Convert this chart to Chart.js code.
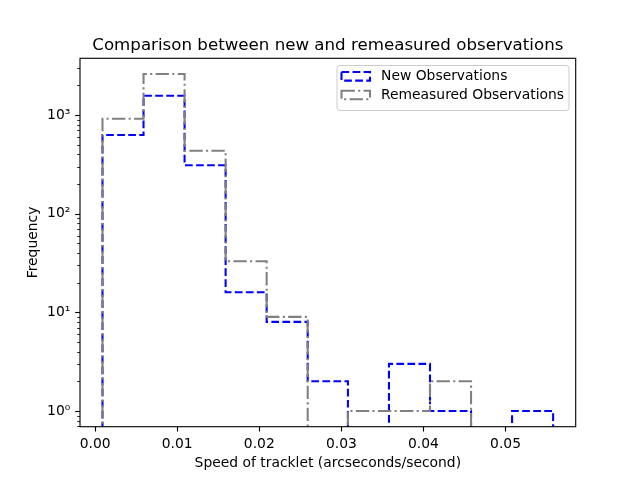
<!DOCTYPE html>
<html>
<head>
<meta charset="utf-8">
<title>Comparison between new and remeasured observations</title>
<script src="https://cdn.jsdelivr.net/npm/chart.js@4.4.1/dist/chart.umd.min.js"></script>
<style>
    html, body { margin: 0; padding: 0; background: #ffffff; }
    #chart { display: block; }
</style>
</head>
<body>
<canvas id="chart" width="640" height="480"></canvas>
<script>
// histogram data
const binEdges = [0.0009, 0.0059, 0.0109, 0.0159, 0.0209, 0.0259, 0.0308, 0.0358, 0.0408, 0.0458, 0.0508, 0.0558];
const newCounts = [627, 1568, 309, 16, 8, 2, 0, 3, 1, 0, 1];
const remeasuredCounts = [917, 2603, 435, 33, 9, 0, 1, 1, 2, 0, 0];
const seriesLabels = ['New Observations', 'Remeasured Observations'];
const xTicks = [0, 0.01, 0.02, 0.03, 0.04, 0.05];
const yMajorTicks = [1, 10, 100, 1000];
const yMajorLabels = ['10\u2070', '10\u00b9', '10\u00b2', '10\u00b3'];

const FONT = "'DejaVu Sans', sans-serif";
const PT = 100 / 72;

// empty bins sit below the visible range of the log axis
const FLOOR = 0.3;

function stepOutline(edges, counts) {
    const pts = [{ x: edges[0], y: FLOOR }];
    counts.forEach((c, i) => {
        const v = c > 0 ? c : FLOOR;
        pts.push({ x: edges[i], y: v });
        pts.push({ x: edges[i + 1], y: v });
    });
    pts.push({ x: edges[edges.length - 1], y: FLOOR });
    return pts;
}

const blueDash = [3.7 * 1.5 * PT, 1.6 * 1.5 * PT];
const grayDash = [6.4 * 1.5 * PT, 1.6 * 1.5 * PT, 1 * 1.5 * PT, 1.6 * 1.5 * PT];

const styles = [
    { color: '#0000ff', dash: blueDash },
    { color: '#808080', dash: grayDash }
];

// title, axis labels, frame, y tick marks and legend drawn matplotlib-like
const decorPlugin = {
    id: 'decor',
    afterDatasetsDraw(chart) {
        const ctx = chart.ctx;
        const area = chart.chartArea;
        const yScale = chart.scales.y;
        ctx.save();

        // y tick marks: long ones at decades, short ones between
        ctx.strokeStyle = '#000000';
        yScale.ticks.forEach(t => {
            const major = yMajorTicks.includes(t.value);
            const y = Math.round(yScale.getPixelForValue(t.value)) + 0.5;
            ctx.lineWidth = major ? 0.8 * PT : 0.6 * PT;
            const len = major ? 3.5 * PT : 2 * PT;
            ctx.beginPath();
            ctx.moveTo(area.left, y);
            ctx.lineTo(area.left - len, y);
            ctx.stroke();
        });

        // axes frame
        ctx.lineWidth = 0.8 * PT;
        ctx.strokeRect(area.left, area.top, area.right - area.left, area.bottom - area.top);

        // title
        ctx.fillStyle = '#000000';
        ctx.font = (12 * PT) + 'px ' + FONT;
        ctx.textAlign = 'center';
        ctx.textBaseline = 'alphabetic';
        ctx.fillText('Comparison between new and remeasured observations', (area.left + area.right) / 2, 50);

        // axis labels
        ctx.font = (10 * PT) + 'px ' + FONT;
        ctx.fillText('Speed of tracklet (arcseconds/second)', (area.left + area.right) / 2, 467);
        ctx.save();
        ctx.translate(37, (area.top + area.bottom) / 2);
        ctx.rotate(-Math.PI / 2);
        ctx.fillText('Frequency', 0, 0);
        ctx.restore();

        // legend
        const lx = 337, ly = 65.5, lw = 232, lh = 45;
        ctx.beginPath();
        ctx.roundRect(lx, ly, lw, lh, 3);
        ctx.fillStyle = 'rgba(255,255,255,0.8)';
        ctx.fill();
        ctx.strokeStyle = '#cccccc';
        ctx.lineWidth = 1;
        ctx.stroke();

        const rows = [76.3, 95];
        seriesLabels.forEach((label, i) => {
            const cy = rows[i];
            ctx.strokeStyle = styles[i].color;
            ctx.lineWidth = 1.5 * PT;
            ctx.setLineDash(styles[i].dash);
            ctx.strokeRect(341.5, cy - 4.3, 28.5, 8.6);
            ctx.setLineDash([]);
            ctx.fillStyle = '#000000';
            ctx.textAlign = 'left';
            ctx.textBaseline = 'middle';
            ctx.fillText(label, 381, cy);
        });

        ctx.restore();
    }
};

document.addEventListener('DOMContentLoaded', function () {
    const ctx = document.getElementById('chart').getContext('2d');

    new Chart(ctx, {
        type: 'line',
        data: {
            datasets: [
                {
                    label: seriesLabels[0],
                    data: stepOutline(binEdges, newCounts),
                    borderColor: styles[0].color,
                    borderDash: styles[0].dash,
                    borderWidth: 1.5 * PT,
                    pointRadius: 0,
                    fill: false,
                    tension: 0,
                    order: 1
                },
                {
                    label: seriesLabels[1],
                    data: stepOutline(binEdges, remeasuredCounts),
                    borderColor: styles[1].color,
                    borderDash: styles[1].dash,
                    borderWidth: 1.5 * PT,
                    pointRadius: 0,
                    fill: false,
                    tension: 0,
                    order: 0
                }
            ]
        },
        options: {
            responsive: false,
            animation: false,
            devicePixelRatio: 1,
            layout: { padding: { top: 58.3, right: 64.3, left: 0, bottom: 0 } },
            plugins: {
                legend: { display: false },
                title: { display: false },
                tooltip: { enabled: false }
            },
            scales: {
                x: {
                    type: 'linear',
                    min: -0.00184,
                    max: 0.05855,
                    afterBuildTicks: scale => {
                        scale.ticks = xTicks.map(v => ({ value: v }));
                    },
                    afterFit: scale => { scale.height = 53.3; },
                    border: { display: false },
                    grid: {
                        drawOnChartArea: false,
                        drawTicks: true,
                        tickLength: 3.5 * PT,
                        tickWidth: 0.8 * PT,
                        tickColor: '#000000'
                    },
                    ticks: {
                        autoSkip: false,
                        maxRotation: 0,
                        padding: 3.5 * PT,
                        color: '#000000',
                        font: { family: FONT, size: 10 * PT },
                        callback: value => value.toFixed(2)
                    }
                },
                y: {
                    type: 'logarithmic',
                    min: 0.693,
                    max: 3756,
                    afterBuildTicks: scale => {
                        const ticks = [];
                        for (let e = -1; e <= 3; e++) {
                            for (let m = 1; m <= 9; m++) {
                                const v = m * Math.pow(10, e);
                                if (v >= scale.min && v <= scale.max) ticks.push({ value: v });
                            }
                        }
                        scale.ticks = ticks;
                    },
                    afterFit: scale => { scale.width = 80; },
                    border: { display: false },
                    grid: { drawOnChartArea: false, drawTicks: false },
                    ticks: {
                        autoSkip: false,
                        padding: 7 * PT,
                        color: '#000000',
                        font: { family: FONT, size: 10 * PT },
                        callback: value => {
                            const idx = yMajorTicks.indexOf(value);
                            return idx >= 0 ? yMajorLabels[idx] : '';
                        }
                    }
                }
            }
        },
        plugins: [decorPlugin]
    });
});
</script>
</body>
</html>
